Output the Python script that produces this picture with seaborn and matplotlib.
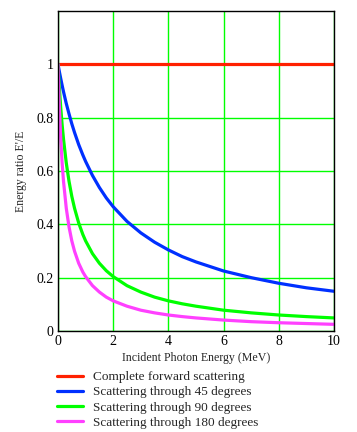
import matplotlib
matplotlib.use("Agg")
import matplotlib.pyplot as plt
import pandas as pd
import seaborn as sns

# incident photon energy (MeV) and the energy ratio
energy = [0, 0.025, 0.05, 0.1, 0.15, 0.2, 0.3, 0.4, 0.5, 0.6, 0.75, 0.9, 1, 1.25,
          1.5, 1.75, 2, 2.5, 3, 3.5, 4, 4.5, 5, 6, 7, 8, 9, 10]
ratio_forward = [1.0] * len(energy)
ratio_45 = [1.0, 0.986, 0.972, 0.946, 0.921, 0.897, 0.853, 0.814, 0.777, 0.744,
            0.699, 0.660, 0.636, 0.583, 0.538, 0.499, 0.466, 0.411, 0.368, 0.333,
            0.304, 0.279, 0.259, 0.225, 0.200, 0.179, 0.162, 0.149]
ratio_90 = [1.0, 0.953, 0.911, 0.836, 0.773, 0.719, 0.630, 0.561, 0.505, 0.460,
            0.405, 0.362, 0.338, 0.290, 0.254, 0.226, 0.204, 0.170, 0.146, 0.127,
            0.113, 0.102, 0.093, 0.078, 0.068, 0.060, 0.054, 0.049]
ratio_180 = [1.0, 0.911, 0.836, 0.719, 0.630, 0.561, 0.460, 0.390, 0.338, 0.299,
             0.254, 0.221, 0.204, 0.170, 0.146, 0.127, 0.113, 0.093, 0.078, 0.068,
             0.060, 0.054, 0.049, 0.041, 0.035, 0.031, 0.028, 0.025]

series_labels = [
    "Complete forward scattering",
    "Scattering through 45 degrees",
    "Scattering through 90 degrees",
    "Scattering through 180 degrees",
]
series_colors = ["#FF2000", "#0030FF", "#00FF00", "#FF40FF"]

x_ticks = [0, 2, 4, 6, 8, 10]
y_ticks = [0, 0.2, 0.4, 0.6, 0.8, 1.0]
y_tick_labels = ["0", "0.2", "0.4", "0.6", "0.8", "1"]

sns.set_theme(style="white")
plt.rcParams["font.family"] = ["Liberation Serif", "DejaVu Serif"]
plt.rcParams["font.size"] = 8.5

frames = []
for label, values in zip(series_labels, [ratio_forward, ratio_45, ratio_90, ratio_180]):
    frames.append(pd.DataFrame({"energy": energy, "ratio": values, "series": label}))
df = pd.concat(frames, ignore_index=True)

fig = plt.figure(figsize=(3.57, 4.32), dpi=100)
ax = fig.add_axes([58 / 357, 1 - 331 / 432, 276 / 357, 320 / 432])

sns.lineplot(data=df, x="energy", y="ratio", hue="series", hue_order=series_labels,
             palette=series_colors, linewidth=2.3, ax=ax, legend=False, zorder=3)

ax.set_xlim(0, 10)
ax.set_ylim(0, 1.2)
ax.set_xticks(x_ticks)
ax.set_xticklabels([str(t) for t in x_ticks])
ax.set_yticks(y_ticks)
ax.set_yticklabels(y_tick_labels)
ax.tick_params(length=0, labelsize=10, colors="black", pad=3)
ax.grid(True, color="#00FF00", linewidth=1.0)
ax.set_axisbelow(True)
for spine in ax.spines.values():
    spine.set_color("black")
    spine.set_linewidth(1.0)
    spine.set_zorder(4)

ax.set_xlabel("Incident Photon Energy (MeV)", fontsize=8.6, labelpad=3)
ax.set_ylabel("Energy ratio E'/E", fontsize=8.5, labelpad=7)

handles = [plt.Line2D([], [], color=c, linewidth=2.3) for c in series_colors]
fig.legend(handles, series_labels, loc="upper left", bbox_to_anchor=(57 / 357, 1 - 371 / 432),
           frameon=False, fontsize=9.5, handlelength=1.97, handletextpad=0.76,
           labelspacing=0.22, borderpad=0, borderaxespad=0)

fig.savefig("out.png", dpi=100)
plt.close(fig)
